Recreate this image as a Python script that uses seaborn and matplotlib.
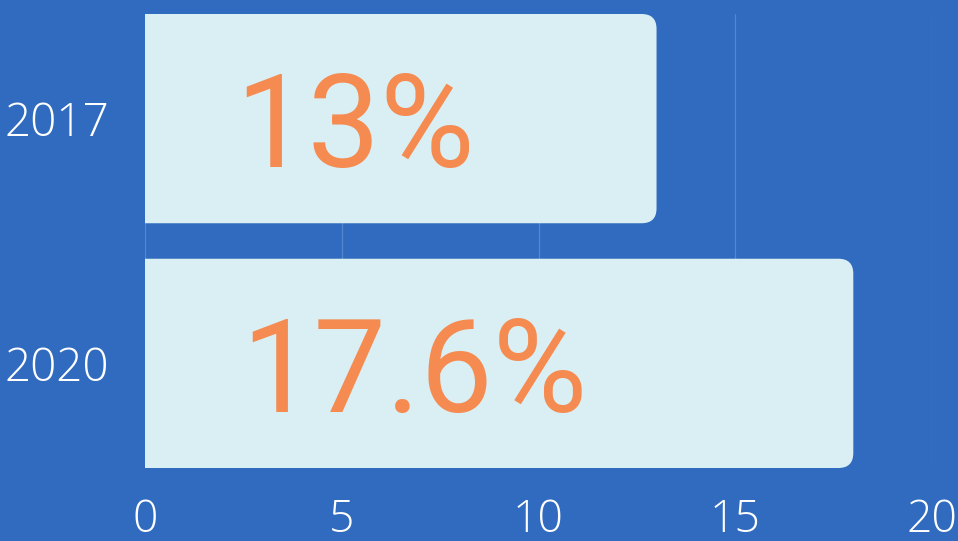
import matplotlib.pyplot as plt
import seaborn as sns
import pandas as pd
from matplotlib.patches import FancyBboxPatch

years = ["2017", "2020"]
values = [13, 18]
labels = ["13%", "17.6%"]
ticks = [0, 5, 10, 15, 20]

bg = "#306BBF"
bar_c = "#DAEFF4"
orange = "#F58B50"
grid_c = "#5587CF"

sns.set_theme(style="white")
plt.rcParams['font.family'] = ['Open Sans', 'DejaVu Sans']

df = pd.DataFrame({'year': years, 'value': values})

fig = plt.figure(figsize=(9.58, 5.41), dpi=100, facecolor=bg)
ax = fig.add_axes([145 / 958, 1 - 468 / 541, (932 - 145) / 958, (468 - 14) / 541])
ax.set_facecolor(bg)

sns.barplot(data=df, x='value', y='year', orient='h', color=bar_c,
            saturation=1, width=0.855, ax=ax)

# swap plain bars for ones with rounded ends (left side hidden by the axis clip)
for p in list(ax.patches):
    x, y, w, h = p.get_x(), p.get_y(), p.get_width(), p.get_height()
    p.remove()
    ax.add_patch(FancyBboxPatch((x - 1, y), w + 1, h,
                                boxstyle="round,pad=0,rounding_size=0.38",
                                mutation_aspect=0.161, fc=bar_c, ec='none',
                                clip_on=True, zorder=2))

ax.set_xlim(0, 20)
ax.set_ylim(1.4275, -0.4275)
ax.set_xticks(ticks)
ax.set_xticklabels([str(t) for t in ticks])
ax.grid(axis='x', color=grid_c, linewidth=0.9)
ax.set_axisbelow(True)
for s in ax.spines.values():
    s.set_visible(False)
ax.tick_params(axis='y', length=0, pad=26, labelsize=33, labelcolor='white')
ax.tick_params(axis='x', length=0, pad=22, labelsize=32, labelcolor='white')
for t in ax.get_xticklabels() + ax.get_yticklabels():
    t.set_fontweight('light')
ax.set_xlabel("")
ax.set_ylabel("")

label_x = [2.3, 2.45]
for i, lab in enumerate(labels):
    ax.annotate(lab, (label_x[i], i), xytext=(0, -35), textcoords='offset points',
                ha='left', va='baseline', fontsize=93, color=orange,
                family=['Roboto', 'DejaVu Sans'], fontweight='normal', zorder=3)

fig.savefig("out.png", dpi=100, facecolor=bg)
